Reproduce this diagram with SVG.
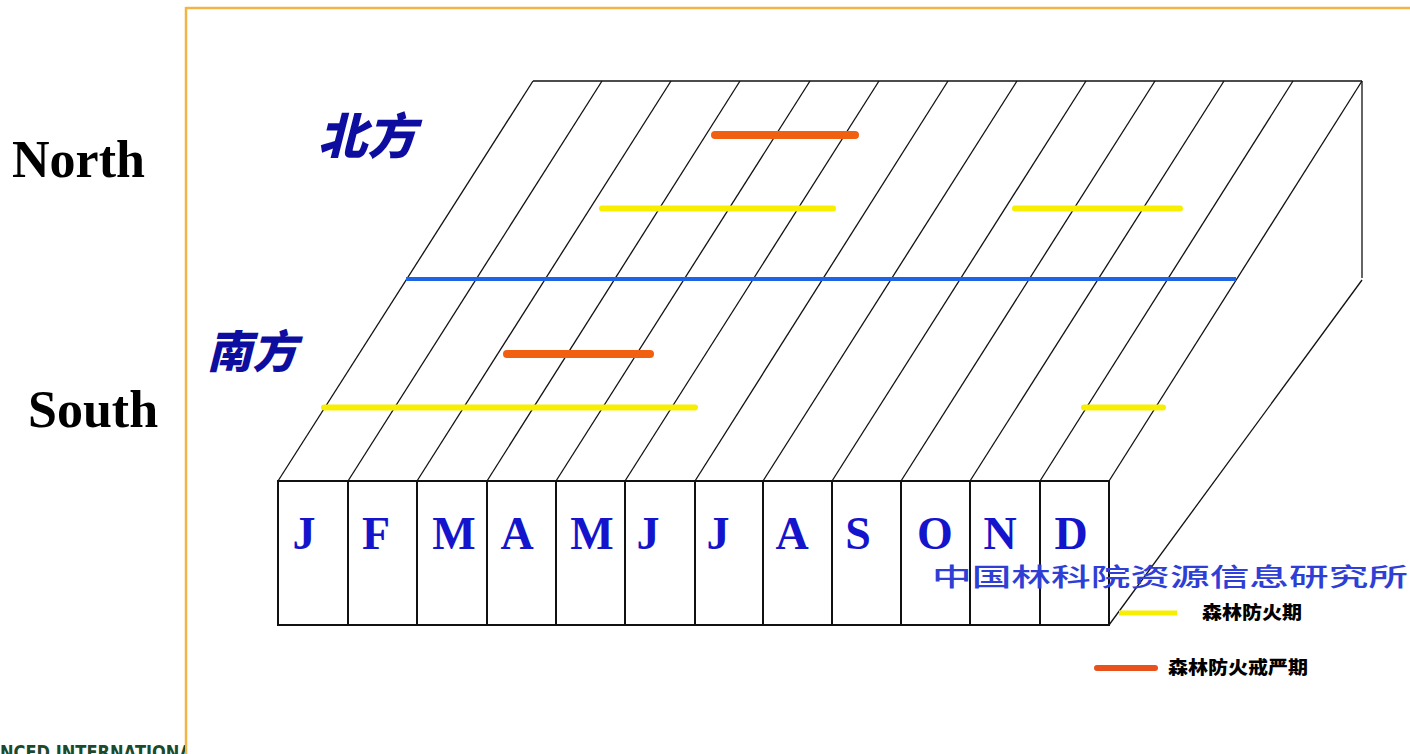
<svg xmlns="http://www.w3.org/2000/svg" width="1410" height="754" viewBox="0 0 1410 754">
<defs>
<style>
.grid{stroke:#111;stroke-width:1.3;fill:none}
.box{fill:#fff;stroke:#111;stroke-width:2}
.mon{font-family:"Liberation Serif",serif;font-weight:bold;font-size:46px;fill:#1414CC;text-anchor:middle}
.ns{font-family:"Liberation Serif",serif;font-weight:bold;font-size:52px;fill:#000}
.cn{font-family:"Noto Sans CJK SC",sans-serif;font-weight:900;font-style:italic;font-size:45px;fill:#0D0DA0}
.org{font-family:"Noto Sans CJK SC",sans-serif;font-weight:500;font-size:25px;fill:#2F3FD6}
.leg{font-family:"Noto Sans CJK SC",sans-serif;font-weight:900;font-size:18px;fill:#000}
.org-bar{stroke:#F06010;stroke-width:8;stroke-linecap:round}
.yel-bar{stroke:#F7EE00;stroke-width:6;stroke-linecap:round}
.blue-bar{stroke:#1E64E6;stroke-width:4}
</style>
<clipPath id="leftclip"><rect x="0" y="0" width="185" height="754"/></clipPath>
</defs>
<rect x="0" y="0" width="1410" height="754" fill="#fff"/>

<g id="frame">
<line x1="186" y1="8" x2="1410" y2="8" stroke="#F2B544" stroke-width="2.5"/>
<line x1="186" y1="7" x2="186" y2="754" stroke="#F2B544" stroke-width="2.5"/>
</g>

<g id="footer" clip-path="url(#leftclip)">
<text x="0" y="759" font-family="'DejaVu Sans',sans-serif" font-weight="bold" font-size="20" fill="#1B4A2C" textLength="192" lengthAdjust="spacingAndGlyphs">NCED INTERNATIONA</text>
</g>

<g id="side-labels">
<text class="ns" x="12" y="177">North</text>
<text class="ns" x="28" y="427">South</text>
</g>

<g id="connectors">
<line class="grid" x1="533" y1="81" x2="1362" y2="81"/>
<line class="grid" x1="1362" y1="81" x2="1362" y2="278"/>
<line class="grid" x1="1362" y1="280" x2="1109" y2="625"/>
<line class="grid" x1="533" y1="81" x2="278" y2="481"/>
<line class="grid" x1="602" y1="81" x2="348" y2="481"/>
<line class="grid" x1="671" y1="81" x2="417" y2="481"/>
<line class="grid" x1="740" y1="81" x2="487" y2="481"/>
<line class="grid" x1="810" y1="81" x2="556" y2="481"/>
<line class="grid" x1="879" y1="81" x2="625" y2="481"/>
<line class="grid" x1="948" y1="81" x2="695" y2="481"/>
<line class="grid" x1="1017" y1="81" x2="763" y2="481"/>
<line class="grid" x1="1086" y1="81" x2="832" y2="481"/>
<line class="grid" x1="1155" y1="81" x2="901" y2="481"/>
<line class="grid" x1="1224" y1="81" x2="970" y2="481"/>
<line class="grid" x1="1293" y1="81" x2="1040" y2="481"/>
<line class="grid" x1="1362" y1="81" x2="1109" y2="481"/>
</g>

<g id="bars">
<line class="org-bar" x1="715" y1="135" x2="855" y2="135"/>
<line class="yel-bar" x1="602" y1="208.5" x2="833" y2="208.5"/>
<line class="yel-bar" x1="1015" y1="208.5" x2="1180" y2="208.5"/>
<line class="blue-bar" x1="406" y1="279" x2="1236" y2="279"/>
<line class="org-bar" x1="507" y1="354" x2="650" y2="354"/>
<line class="yel-bar" x1="324" y1="407.5" x2="695" y2="407.5"/>
<line class="yel-bar" x1="1084" y1="407.5" x2="1163" y2="407.5"/>
</g>

<g id="region-labels">
<text class="cn" x="318" y="154" style="font-size:49px">北方</text>
<text class="cn" x="207" y="368">南方</text>
</g>

<g id="months">
<g id="m-jan"><rect class="box" x="278" y="481" width="70" height="144"/><text class="mon" x="304" y="549">J</text></g>
<g id="m-feb"><rect class="box" x="348" y="481" width="69" height="144"/><text class="mon" x="376" y="549">F</text></g>
<g id="m-mar"><rect class="box" x="417" y="481" width="70" height="144"/><text class="mon" x="454" y="549">M</text></g>
<g id="m-apr"><rect class="box" x="487" y="481" width="69" height="144"/><text class="mon" x="517" y="549">A</text></g>
<g id="m-may"><rect class="box" x="556" y="481" width="69" height="144"/><text class="mon" x="592" y="549">M</text></g>
<g id="m-jun"><rect class="box" x="625" y="481" width="70" height="144"/><text class="mon" x="648" y="549">J</text></g>
<g id="m-jul"><rect class="box" x="695" y="481" width="68" height="144"/><text class="mon" x="718" y="549">J</text></g>
<g id="m-aug"><rect class="box" x="763" y="481" width="69" height="144"/><text class="mon" x="792" y="549">A</text></g>
<g id="m-sep"><rect class="box" x="832" y="481" width="69" height="144"/><text class="mon" x="858" y="549">S</text></g>
<g id="m-oct"><rect class="box" x="901" y="481" width="69" height="144"/><text class="mon" x="935" y="549">O</text></g>
<g id="m-nov"><rect class="box" x="970" y="481" width="70" height="144"/><text class="mon" x="1000" y="549">N</text></g>
<g id="m-dec"><rect class="box" x="1040" y="481" width="69" height="144"/><text class="mon" x="1071" y="549">D</text></g>
</g>

<g id="org">
<text class="org" x="932" y="586" textLength="476" lengthAdjust="spacingAndGlyphs">中国林科院资源信息研究所</text>
</g>

<g id="legend">
<line x1="1119" y1="613" x2="1177" y2="613" stroke="#F7EE00" stroke-width="5"/>
<text class="leg" x="1202" y="619" textLength="100" lengthAdjust="spacingAndGlyphs">森林防火期</text>
<line x1="1097" y1="668" x2="1155" y2="668" stroke="#E8501C" stroke-width="6" stroke-linecap="round"/>
<text class="leg" x="1168" y="674" textLength="140" lengthAdjust="spacingAndGlyphs">森林防火戒严期</text>
</g>
</svg>
